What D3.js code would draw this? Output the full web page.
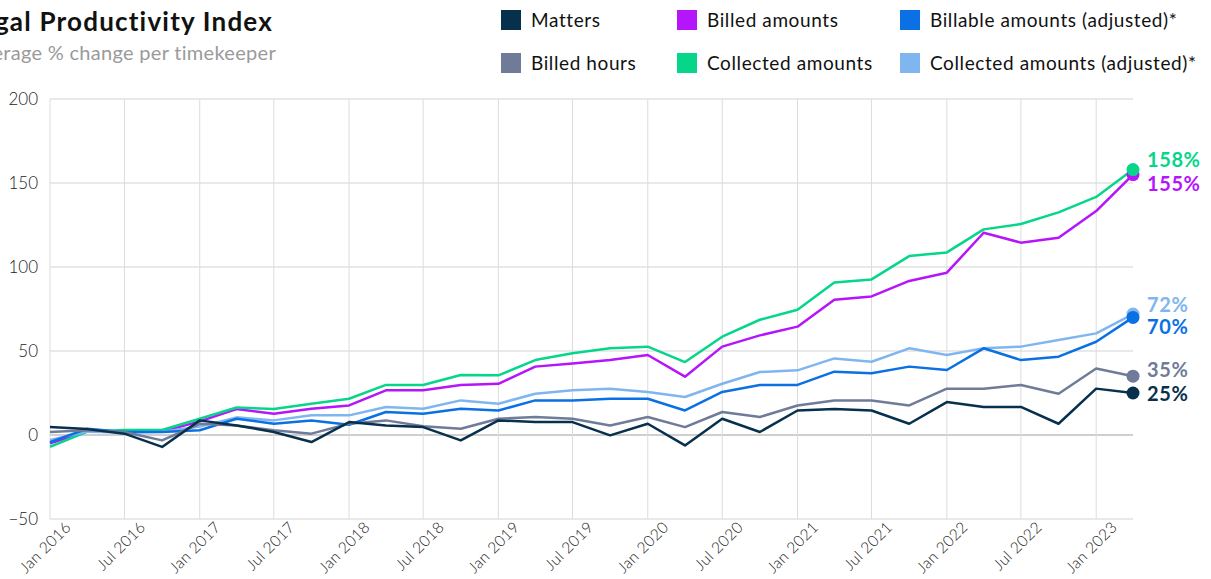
<!DOCTYPE html>
<html>
<head>
<meta charset="utf-8">
<script src="https://cdn.jsdelivr.net/npm/d3@7"></script>
<style>
  body { margin: 0; background: #fff; }
  svg { display: block; font-family: Lato, "Open Sans", sans-serif; }
</style>
</head>
<body>
<div id="chart"></div>
<script>
// Quarterly periods, Jan 2016 .. Apr 2023
const quarters = d3.range(30).map((i) => new Date(2016, i * 3, 1));

const matters = [4.7, 3.5, 0.8, -7.1, 8.7, 5.7, 1.8, -4.2, 7.7, 5.7, 4.7, -3.2, 8.7, 7.7, 7.7, -0.2, 6.7, -6.2, 9.7, 1.8, 14.6, 15.5, 14.6, 6.7, 19.6, 16.7, 16.7, 6.7, 27.6, 25];
const billedHours = [1.8, 2.8, 1.8, -3.2, 6.7, 5.7, 2.8, 0.8, 6.7, 8.7, 5.2, 3.7, 9.7, 10.7, 9.7, 5.7, 10.7, 4.7, 13.7, 10.7, 17.6, 20.6, 20.6, 17.6, 27.6, 27.6, 29.8, 24.6, 39.6, 35];
const billedAmounts = [-5, 2, 2, 2, 8.1, 15.5, 12.7, 15.6, 17.6, 26.6, 26.6, 29.8, 30.5, 40.7, 42.6, 44.6, 47.6, 34.7, 52.6, 59.3, 64.5, 80.5, 82.5, 91.7, 96.6, 120.4, 114.5, 117.4, 133.3, 155];
const collectedAmounts = [-7, 2, 3, 3, 9.7, 16.4, 15.5, 18.6, 21.6, 29.8, 29.8, 35.7, 35.5, 44.6, 48.6, 51.6, 52.6, 43.4, 58.5, 68.6, 74.6, 90.8, 92.6, 106.5, 108.7, 122.4, 125.6, 132.5, 141.7, 158];
const billableAdj = [-4.2, 3.7, 1.8, 1.8, 2.8, 9.7, 6.7, 8.7, 6.1, 13.7, 12.7, 15.6, 14.6, 20.6, 20.6, 21.6, 21.6, 14.6, 25.6, 29.8, 29.8, 37.7, 36.7, 40.7, 38.7, 51.6, 44.6, 46.6, 55.5, 70];
const collectedAdj = [-3, 2, 1.5, 2, 5, 10.5, 8.7, 11.7, 11.7, 16.7, 15.6, 20.6, 18.6, 24.6, 26.6, 27.6, 25.6, 22.6, 30.5, 37.5, 38.5, 45.6, 43.6, 51.6, 47.6, 51.6, 52.6, 56.5, 60.5, 72];

const seriesNames = ["Matters", "Billed hours", "Billed amounts", "Collected amounts", "Billable amounts (adjusted)*", "Collected amounts (adjusted)*"];
const seriesColors = ["#07304d", "#6f7b99", "#b515fb", "#05d68a", "#0a70e3", "#80b6f0"];
const endLabels = ["25%", "35%", "155%", "158%", "70%", "72%"];
const yTicks = [-50, 0, 50, 100, 150, 200];

const allData = [matters, billedHours, billedAmounts, collectedAmounts, billableAdj, collectedAdj].map((vals, i) => ({
  name: seriesNames[i],
  color: seriesColors[i],
  label: endLabels[i],
  values: vals.map((v, j) => ({ date: quarters[j], value: v })),
}));

const width = 1211;
const height = 579;
const margin = { top: 99, right: 78, bottom: 60, left: 50 };
const innerWidth = width - margin.left - margin.right;
const innerHeight = height - margin.top - margin.bottom;

const svg = d3.select("#chart").append("svg")
  .attr("width", width)
  .attr("height", height);

// Title (left part runs off the edge, as in the source)
svg.append("text")
  .attr("x", 273).attr("y", 31)
  .attr("text-anchor", "end")
  .style("font-size", "26px").style("font-weight", 700).style("fill", "#111")
  .style("letter-spacing", "1.2px")
  .text("Legal Productivity Index");

svg.append("text")
  .attr("x", 276).attr("y", 60)
  .attr("text-anchor", "end")
  .style("font-size", "20px").style("fill", "#9a9a9a")
  .style("letter-spacing", "0.3px")
  .text("Average % change per timekeeper");

// Legend: 2 rows x 3 columns
const legendCols = [501, 677, 900];
const legendOrder = [0, 2, 4, 1, 3, 5];
const legend = svg.selectAll(".legend")
  .data(legendOrder.map((i) => allData[i]))
  .enter().append("g")
  .attr("class", "legend")
  .attr("transform", (d, k) => `translate(${legendCols[k % 3]},${k < 3 ? 10 : 53})`);

legend.append("rect")
  .attr("width", 20).attr("height", 20)
  .style("fill", (d) => d.color);

legend.append("text")
  .attr("x", 30).attr("y", 17)
  .style("font-size", "19px").style("fill", "#111")
  .style("letter-spacing", "0.6px")
  .text((d) => d.name);

const g = svg.append("g").attr("transform", `translate(${margin.left},${margin.top})`);

const x = d3.scaleTime()
  .domain([quarters[0], quarters[quarters.length - 1]])
  .range([0, innerWidth]);

const y = d3.scaleLinear()
  .domain([-50, 200])
  .range([innerHeight, 0]);

const xTicks = d3.timeMonth.every(6).range(quarters[0], quarters[quarters.length - 1]);

// Grid
g.append("g").selectAll("line")
  .data(yTicks).enter().append("line")
  .attr("x1", 0).attr("x2", innerWidth)
  .attr("y1", (d) => y(d)).attr("y2", (d) => y(d))
  .style("stroke", (d) => (d === 0 ? "#a0a0a0" : "#e2e2e2"))
  .style("stroke-width", (d) => (d === 0 ? 1.2 : 1.5));

g.append("g").selectAll("line")
  .data(xTicks).enter().append("line")
  .attr("x1", (d) => x(d)).attr("x2", (d) => x(d))
  .attr("y1", 0).attr("y2", innerHeight)
  .style("stroke", "#dcdcdc")
  .style("stroke-width", 1);

// Axes
const yAxis = g.append("g").call(d3.axisLeft(y).tickValues(yTicks).tickSize(0).tickPadding(12));
const xAxis = g.append("g")
  .attr("transform", `translate(0,${innerHeight})`)
  .call(d3.axisBottom(x).tickValues(xTicks).tickFormat(d3.timeFormat("%b %Y")).tickSize(0).tickPadding(10));

[yAxis, xAxis].forEach((a) => {
  a.select(".domain").remove();
  a.selectAll("text")
    .style("font-size", "17px")
    .style("font-family", "Lato, sans-serif")
    .style("font-weight", 300)
    .style("fill", "#222");
});
yAxis.selectAll("text").attr("dy", "0.32em");
xAxis.selectAll("text")
  .style("font-size", "15.5px")
  .style("letter-spacing", "0.3px")
  .attr("text-anchor", "end")
  .attr("dx", "0.55em")
  .attr("dy", "0.75em")
  .attr("transform", "rotate(-45)");

// Lines
const line = d3.line()
  .x((d) => x(d.date))
  .y((d) => y(d.value));

const drawOrder = [2, 3, 5, 4, 1, 0];

g.selectAll(".line")
  .data(drawOrder.map((i) => allData[i]))
  .enter().append("path")
  .attr("class", "line")
  .attr("d", (d) => line(d.values))
  .style("fill", "none")
  .style("stroke", (d) => d.color)
  .style("stroke-width", 2.5)
  .style("stroke-linejoin", "round");

// End dots
g.selectAll(".end-dot")
  .data(drawOrder.map((i) => allData[i]))
  .enter().append("circle")
  .attr("class", "end-dot")
  .attr("cx", (d) => x(d.values[d.values.length - 1].date))
  .attr("cy", (d) => y(d.values[d.values.length - 1].value))
  .attr("r", 6.5)
  .style("fill", (d) => d.color);

// End labels, nudged apart where lines end close together
const labelOffset = { "158%": -10, "155%": 9, "72%": -9, "70%": 10, "35%": -6, "25%": 1 };
g.selectAll(".end-label")
  .data(allData)
  .enter().append("text")
  .attr("class", "end-label")
  .attr("x", innerWidth + 14)
  .attr("y", (d) => y(d.values[d.values.length - 1].value) + labelOffset[d.label])
  .attr("dy", "0.35em")
  .style("font-size", "20px")
  .style("font-weight", 700)
  .style("letter-spacing", "0.6px")
  .style("fill", (d) => d.color)
  .text((d) => d.label);
</script>
</body>
</html>
